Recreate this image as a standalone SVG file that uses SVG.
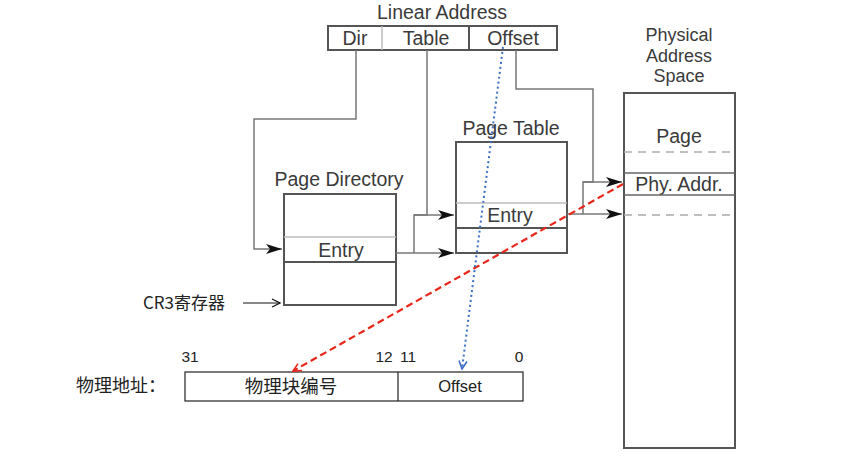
<svg xmlns="http://www.w3.org/2000/svg" width="861" height="457" viewBox="0 0 861 457">
<style>
.t{font-family:"Liberation Sans",Arial,sans-serif;fill:#3a3a3a;font-size:19.5px;text-anchor:middle}
.c{font-family:"Noto Sans CJK SC","Liberation Sans",sans-serif;fill:#222;text-anchor:middle}
.n{font-family:"Liberation Sans",Arial,sans-serif;fill:#222;text-anchor:middle}
.box{fill:#fff;stroke:#555;stroke-width:2}
.lt{stroke:#bbb;stroke-width:1.5;fill:none}
.dk{stroke:#555;stroke-width:2;fill:none}
.ln{stroke:#777;stroke-width:1.5;fill:none}
.dsh{stroke:#aaa;stroke-width:1.5;stroke-dasharray:8,6;fill:none}
.bb{fill:#fff;stroke:#222;stroke-width:1.2}
</style>
<defs>
<marker id="ah" viewBox="0 0 16 10" refX="16" refY="5" markerWidth="16" markerHeight="10" markerUnits="userSpaceOnUse" orient="auto">
<path d="M0,0 L16,5 L0,10 L4,5 Z" fill="#111"/>
</marker>
<marker id="ra" viewBox="0 0 10 10" refX="9" refY="5" markerWidth="10" markerHeight="10" markerUnits="userSpaceOnUse" orient="auto">
<path d="M1,1 L9,5 L1,9" fill="none" stroke="#e8261a" stroke-width="1.6"/>
</marker>
<marker id="ba" viewBox="0 0 10 10" refX="9" refY="5" markerWidth="10" markerHeight="10" markerUnits="userSpaceOnUse" orient="auto">
<path d="M1,1 L9,5 L1,9" fill="none" stroke="#3a6fc4" stroke-width="1.6"/>
</marker>
<marker id="sa" viewBox="0 0 10 10" refX="9" refY="5" markerWidth="10" markerHeight="10" markerUnits="userSpaceOnUse" orient="auto">
<path d="M1,1 L9,5 L1,9" fill="none" stroke="#111" stroke-width="1.2"/>
</marker>
</defs>

<g id="linear-address">
<text class="t" x="442" y="19">Linear Address</text>
<rect class="box" x="328" y="26" width="229" height="24"/>
<line class="lt" x1="382" y1="26" x2="382" y2="50"/>
<line class="dk" x1="469" y1="26" x2="469" y2="50"/>
<text class="t" x="355" y="45">Dir</text>
<text class="t" x="426" y="45">Table</text>
<text class="t" x="513" y="45">Offset</text>
</g>

<g id="page-directory">
<text class="t" x="339" y="186">Page Directory</text>
<rect class="box" x="284" y="194" width="112" height="111"/>
<line class="lt" x1="284" y1="237" x2="396" y2="237"/>
<line class="dk" x1="284" y1="262" x2="396" y2="262"/>
<text class="t" x="341" y="257">Entry</text>
</g>

<g id="page-table">
<text class="t" x="511" y="135">Page Table</text>
<rect class="box" x="456" y="142" width="111" height="111"/>
<line class="lt" x1="456" y1="203" x2="567" y2="203"/>
<line class="dk" x1="456" y1="228" x2="567" y2="228"/>
<text class="t" x="510" y="222">Entry</text>
</g>

<g id="physical">
<text class="t" x="679" y="41" style="font-size:18px">Physical</text>
<text class="t" x="679" y="61.5" style="font-size:18px">Address</text>
<text class="t" x="679" y="82" style="font-size:18px">Space</text>
<rect class="box" x="624" y="93" width="111" height="355"/>
<text class="t" x="679" y="143">Page</text>
<line class="dsh" x1="624" y1="152" x2="735" y2="152"/>
<line class="dk" x1="624" y1="173" x2="735" y2="173" style="stroke:#666;stroke-width:1.5"/>
<text class="t" x="679" y="191">Phy. Addr.</text>
<line class="dk" x1="624" y1="195" x2="735" y2="195" style="stroke:#666;stroke-width:1.5"/>
<line class="dsh" x1="624" y1="215" x2="735" y2="215"/>
</g>

<g id="cr3">
<text class="c" x="184" y="309" font-size="17">CR3寄存器</text>
</g>

<g id="phys-addr">
<text class="c" x="121" y="392" font-size="18">物理地址：</text>
<rect class="bb" x="185" y="372" width="338" height="29"/>
<line stroke="#222" stroke-width="1.2" x1="398" y1="372" x2="398" y2="401"/>
<text class="c" x="291" y="393" font-size="18.5">物理块编号</text>
<text class="n" x="460" y="392" font-size="16.5">Offset</text>
<text class="n" x="190" y="362" font-size="15.5">31</text>
<text class="n" x="384" y="362" font-size="15.5">12</text>
<text class="n" x="408" y="362" font-size="15.5">11</text>
<text class="n" x="519" y="362" font-size="15.5">0</text>
</g>

<g id="connectors">
<path class="ln" d="M356,50 V119 H254 V249 H282" marker-end="url(#ah)"/>
<path class="ln" d="M427,50 V215 H414 V253"/>
<path class="ln" d="M414,215 H454" marker-end="url(#ah)"/>
<path class="ln" d="M396,253 H454" marker-end="url(#ah)"/>
<path class="ln" d="M516,50 V89 H593 V182 H583 V214"/>
<path class="ln" d="M583,182 H622" marker-end="url(#ah)"/>
<path class="ln" d="M567,214 H622" marker-end="url(#ah)"/>
<line x1="243" y1="303" x2="280" y2="303" stroke="#111" stroke-width="1.2" marker-end="url(#sa)"/>
<line x1="623" y1="184" x2="293" y2="371" stroke="#e8261a" stroke-width="2.2" stroke-dasharray="7,4" marker-end="url(#ra)"/>
<line x1="503" y1="47" x2="462" y2="369" stroke="#3a6fc4" stroke-width="2" stroke-dasharray="2,3" marker-end="url(#ba)"/>
</g>
</svg>
